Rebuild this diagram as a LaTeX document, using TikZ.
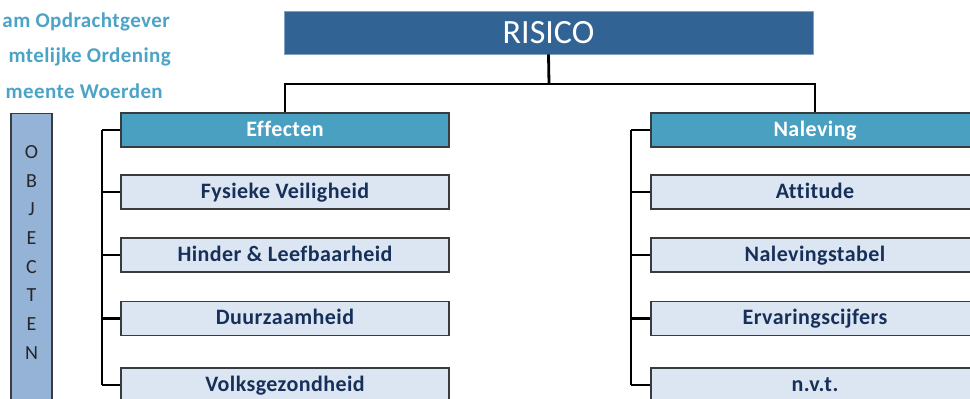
\documentclass[tikz,border=0pt]{standalone}
\usepackage{fontspec}
\setmainfont{Carlito}
\newfontfamily\widefont{Carlito}[LetterSpace=2,Ligatures=NoCommon]
\definecolor{topblue}{RGB}{49,99,148}
\definecolor{headteal}{RGB}{74,160,193}
\definecolor{itemfill}{RGB}{220,230,242}
\definecolor{itemtext}{RGB}{23,48,90}
\definecolor{sidefill}{RGB}{149,179,215}
\definecolor{edge}{RGB}{55,60,65}
\definecolor{captioncol}{RGB}{75,163,199}
\tikzset{
  rootbox/.style={rectangle, fill=topblue, draw=topblue!60!white, line width=0.8pt,
    minimum width=529pt, minimum height=43pt, inner sep=0pt,
    text height=24pt, text depth=2pt,
    text=white, font=\fontsize{34}{34}\selectfont},
  boxbase/.style={rectangle, draw=edge, line width=1.4pt,
    minimum width=328pt, minimum height=34pt, inner sep=0pt,
    text height=15pt, text depth=3pt,
    font=\widefont\fontsize{22}{22}\selectfont\bfseries},
  headbox/.style={boxbase, fill=headteal, text=white},
  itembox/.style={boxbase, fill=itemfill, text=itemtext},
  sidebox/.style={rectangle, fill=sidefill, draw=edge, line width=1.2pt,
    minimum width=41pt, minimum height=320pt, inner sep=0pt},
  caption/.style={anchor=base east, inner sep=0pt, text=captioncol,
    font=\widefont\fontsize{21}{21}\selectfont\bfseries},
  letter/.style={text=black!85, font=\fontsize{20}{20}\selectfont, inner sep=0pt},
  wire/.style={draw=black, line width=2.8pt}
}
\begin{document}
\begin{tikzpicture}[x=1pt,y=-1pt]
\useasboundingbox (0,0) rectangle (970,399);
\clip (0,0) rectangle (970,399);

% heading lines at the top left
\node[caption] (cap1) at (170,27) {am Opdrachtgever};
\node[caption] (cap2) at (171,62) {mtelijke Ordening};
\node[caption] (cap3) at (163,98) {meente Woerden};

% vertical side bar
\node[sidebox, anchor=north] (side) at (31.5,113) {};
\foreach \ch [count=\i] in {O,B,J,E,C,T,E,N}
  \node[letter] (side\i) at (31.5,{152+28.7*(\i-1)}) {\ch};

% root
\node[rootbox] (risico) at (548.5,32.5) {RISICO};

% left column
\node[headbox] (effecten) at (285,130) {Effecten};
\node[itembox] (fysiek)   at (285,192) {Fysieke Veiligheid};
\node[itembox] (hinder)   at (285,255) {Hinder \& Leefbaarheid};
\node[itembox] (duurzaam) at (285,318.5) {Duurzaamheid};
\node[itembox] (volks)    at (285,385) {Volksgezondheid};

% right column
\node[headbox] (naleving) at (815,130) {Naleving};
\node[itembox] (attitude) at (815,192) {Attitude};
\node[itembox] (tabel)    at (815,255) {Nalevingstabel};
\node[itembox] (cijfers)  at (815,318.5) {Ervaringscijfers};
\node[itembox] (nvt)      at (815,385) {n.v.t.};

% root to the two column heads
\coordinate (bus) at (549,84);
\draw[wire] (risico.south) -- (bus);
\draw[wire] (effecten.north) |- (bus) -| (naleving.north);

% spines of the columns
\coordinate (lx) at (102,0);
\coordinate (rx) at (631,0);
\draw[wire] (effecten.west -| lx) -- (volks.west -| lx);
\draw[wire] (naleving.west -| rx) -- (nvt.west -| rx);
\foreach \n in {effecten,fysiek,hinder,duurzaam,volks}
  \draw[wire] (\n.west) -- (\n.west -| lx);
\foreach \n in {naleving,attitude,tabel,cijfers,nvt}
  \draw[wire] (\n.west) -- (\n.west -| rx);
\end{tikzpicture}
\end{document}
